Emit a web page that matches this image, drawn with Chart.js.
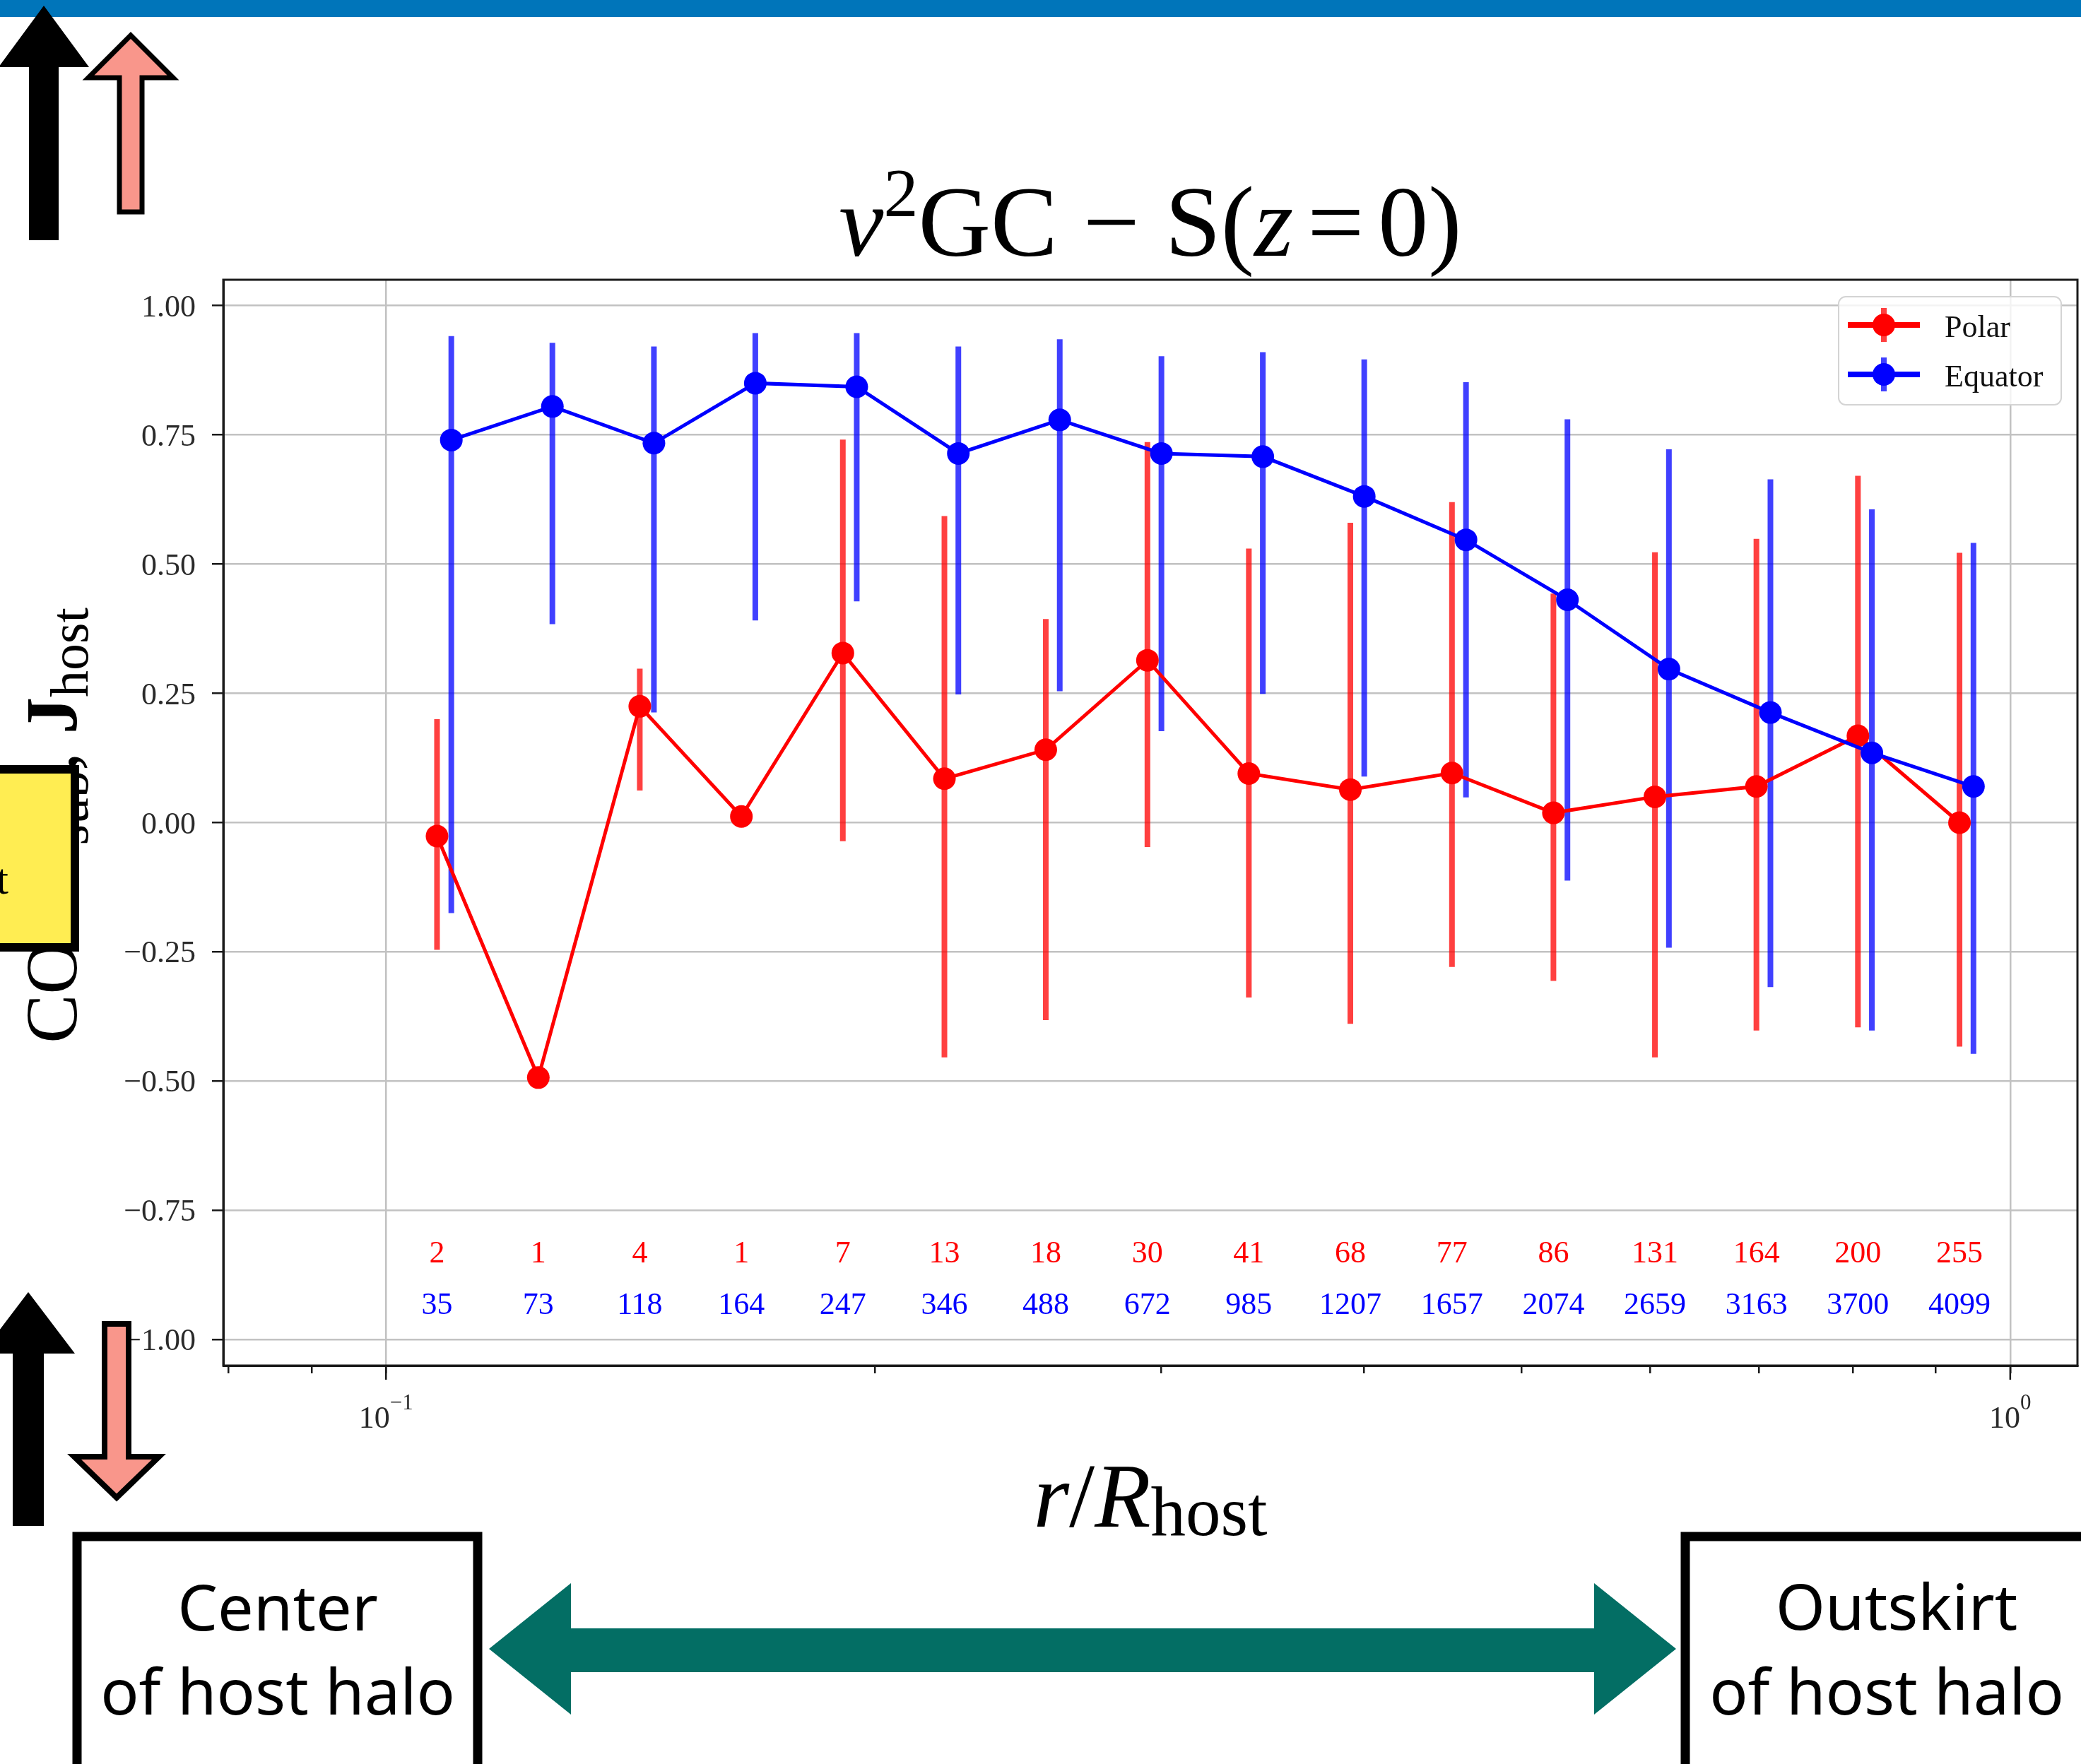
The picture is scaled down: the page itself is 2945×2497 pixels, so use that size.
<!DOCTYPE html>
<html>
<head>
<meta charset="utf-8">
<title>Subhalo spin alignment vs radius</title>
<script src="https://cdn.jsdelivr.net/npm/chart.js@4.4.1/dist/chart.umd.min.js"></script>
<style>
  html, body { margin: 0; padding: 0; background: #fff; }
  canvas { display: block; }
</style>
</head>
<body>
<canvas id="chart" width="2945" height="2497" style="width:2945px;height:2497px"></canvas>
<script>
// radial bins, r / R_host (equator points sit a touch to the right of the polar ones)
const rPolar = [0.1075, 0.1241, 0.1433, 0.1655, 0.1911, 0.2207, 0.2548, 0.2943,
  0.3398, 0.3924, 0.4532, 0.5233, 0.6043, 0.6978, 0.8058, 0.9306];
const rEquator = [0.1097, 0.1266, 0.1462, 0.1688, 0.1949, 0.2251, 0.2599, 0.3002,
  0.3466, 0.4002, 0.4623, 0.5338, 0.6164, 0.7118, 0.8219, 0.9492];

// mean cosine and the ends of the error bars (null = single object, no bar)
const polarMean = [-0.026, -0.493, 0.225, 0.012, 0.328, 0.085, 0.141, 0.314,
  0.095, 0.064, 0.096, 0.019, 0.050, 0.070, 0.168, 0.000];
const polarLow = [-0.246, null, 0.062, null, -0.036, -0.454, -0.382, -0.047,
  -0.338, -0.389, -0.279, -0.306, -0.454, -0.402, -0.396, -0.433];
const polarHigh = [0.200, null, 0.298, null, 0.741, 0.593, 0.394, 0.736,
  0.530, 0.580, 0.620, 0.443, 0.523, 0.549, 0.671, 0.522];

const equatorMean = [0.740, 0.805, 0.734, 0.850, 0.843, 0.714, 0.779, 0.714,
  0.708, 0.631, 0.547, 0.431, 0.297, 0.213, 0.135, 0.070];
const equatorLow = [-0.175, 0.384, 0.213, 0.391, 0.428, 0.248, 0.254, 0.177,
  0.249, 0.089, 0.049, -0.112, -0.242, -0.318, -0.402, -0.447];
const equatorHigh = [0.941, 0.928, 0.921, 0.947, 0.947, 0.921, 0.935, 0.902,
  0.910, 0.896, 0.852, 0.780, 0.722, 0.664, 0.606, 0.541];

// number of subhaloes per bin
const polarCount = [2, 1, 4, 1, 7, 13, 18, 30, 41, 68, 77, 86, 131, 164, 200, 255];
const equatorCount = [35, 73, 118, 164, 247, 346, 488, 672, 985, 1207, 1657, 2074,
  2659, 3163, 3700, 4099];
const countRowPolar = -0.85;
const countRowEquator = -0.95;

const yTicks = [-1, -0.75, -0.5, -0.25, 0, 0.25, 0.5, 0.75, 1];
const xTicks = [0.08, 0.09, 0.1, 0.2, 0.3, 0.4, 0.5, 0.6, 0.7, 0.8, 0.9, 1];
const xMajor = [0.1, 1];
const xTickLabels = [['10', '−1'], ['10', '0']];

const SERIF = '"Liberation Serif", "Times New Roman", serif';
const SANS = '"Noto Sans", "Liberation Sans", sans-serif';
const serif = (size, style = '') => `${style} ${size}px ${SERIF}`.trim();

const GRID = '#c2c2c2';
const INK = '#1a1a1a';

// draw a row of text pieces with their own fonts and offsets
const drawRuns = (ctx, runs, x, y, align = 'center') => {
  ctx.save();
  ctx.textAlign = 'left';
  ctx.textBaseline = 'alphabetic';
  const widths = runs.map((r) => {
    ctx.font = r.font;
    return ctx.measureText(r.text).width + 2 * (r.pad || 0);
  });
  const total = widths.reduce((a, b) => a + b, 0);
  let cx = align === 'center' ? x - total / 2 : align === 'right' ? x - total : x;
  runs.forEach((r, i) => {
    ctx.font = r.font;
    ctx.fillText(r.text, cx + (r.pad || 0), y + (r.dy || 0));
    cx += widths[i];
  });
  ctx.restore();
};

const blockArrow = (ctx, a, fill, stroke, lw) => {
  const { cx, tip, head, end, headHalf, shaftHalf } = a;
  ctx.beginPath();
  ctx.moveTo(cx, tip);
  ctx.lineTo(cx + headHalf, head);
  ctx.lineTo(cx + shaftHalf, head);
  ctx.lineTo(cx + shaftHalf, end);
  ctx.lineTo(cx - shaftHalf, end);
  ctx.lineTo(cx - shaftHalf, head);
  ctx.lineTo(cx - headHalf, head);
  ctx.closePath();
  ctx.fillStyle = fill;
  ctx.fill();
  if (stroke) {
    ctx.lineJoin = 'miter';
    ctx.lineWidth = lw;
    ctx.strokeStyle = stroke;
    ctx.stroke();
  }
};

// vertical error bars, drawn under the lines and markers
const errorBars = {
  id: 'errorBars',
  beforeDatasetsDraw(chart) {
    const { ctx, scales: { x, y } } = chart;
    ctx.save();
    ctx.lineWidth = 8;
    ctx.lineCap = 'butt';
    [...chart.data.datasets].reverse().forEach((ds) => {
      ctx.strokeStyle = ds.errorColor;
      ds.data.forEach((p, i) => {
        if (ds.errLow[i] === null) return;
        const px = x.getPixelForValue(p.x);
        ctx.beginPath();
        ctx.moveTo(px, y.getPixelForValue(ds.errLow[i]));
        ctx.lineTo(px, y.getPixelForValue(ds.errHigh[i]));
        ctx.stroke();
      });
    });
    ctx.restore();
  },
};

// frame, tick labels, counts, legend, title and axis labels
const axesText = {
  id: 'axesText',
  afterDatasetsDraw(chart) {
    const { ctx, chartArea: area, scales: { x, y } } = chart;
    ctx.save();

    // full box round the axes
    ctx.strokeStyle = INK;
    ctx.lineWidth = 3;
    ctx.strokeRect(area.left, area.top, area.right - area.left, area.bottom - area.top);

    // longer marks for the decades
    ctx.lineWidth = 2.5;
    xMajor.forEach((v) => {
      const px = x.getPixelForValue(v);
      ctx.beginPath();
      ctx.moveTo(px, area.bottom);
      ctx.lineTo(px, area.bottom + 20);
      ctx.stroke();
    });

    ctx.fillStyle = '#2a2a2a';
    yTicks.forEach((v) => {
      const label = (v < 0 ? '−' : '') + Math.abs(v).toFixed(2);
      drawRuns(ctx, [{ text: label, font: serif(44) }], area.left - 39, y.getPixelForValue(v) + 15, 'right');
    });
    xMajor.forEach((v, i) => {
      const [base, sup] = xTickLabels[i];
      drawRuns(ctx, [
        { text: base, font: serif(44) },
        { text: sup, font: serif(31), dy: -26 },
      ], x.getPixelForValue(v), area.bottom + 88);
    });

    // counts per bin
    rPolar.forEach((r, i) => {
      const px = x.getPixelForValue(r);
      ctx.fillStyle = '#ff0000';
      drawRuns(ctx, [{ text: String(polarCount[i]), font: serif(44) }], px, y.getPixelForValue(countRowPolar));
      ctx.fillStyle = '#0000ff';
      drawRuns(ctx, [{ text: String(equatorCount[i]), font: serif(44) }], px, y.getPixelForValue(countRowEquator));
    });

    // legend
    const lx = area.right - 338;
    const ly = area.top + 24;
    ctx.beginPath();
    ctx.roundRect(lx, ly, 315, 153, 10);
    ctx.fillStyle = 'rgba(255,255,255,0.8)';
    ctx.fill();
    ctx.strokeStyle = '#d4d4d4';
    ctx.lineWidth = 2;
    ctx.stroke();
    chart.data.datasets.forEach((ds, i) => {
      const cy = ly + 40 + i * 70;
      const mx = lx + 64;
      ctx.strokeStyle = ds.borderColor;
      ctx.lineWidth = 8;
      ctx.beginPath();
      ctx.moveTo(lx + 13, cy);
      ctx.lineTo(lx + 115, cy);
      ctx.stroke();
      ctx.strokeStyle = ds.errorColor;
      ctx.beginPath();
      ctx.moveTo(mx, cy - 24);
      ctx.lineTo(mx, cy + 24);
      ctx.stroke();
      ctx.fillStyle = ds.backgroundColor;
      ctx.beginPath();
      ctx.arc(mx, cy, 16, 0, Math.PI * 2);
      ctx.fill();
      ctx.fillStyle = '#111';
      drawRuns(ctx, [{ text: ds.label, font: serif(44) }], lx + 150, cy + 17, 'left');
    });

    // title
    const mid = (area.left + area.right) / 2;
    ctx.fillStyle = '#000';
    drawRuns(ctx, [
      { text: 'ν', font: serif(142, 'italic') },
      { text: '2', font: serif(98), dy: -56 },
      { text: 'GC', font: serif(142) },
      { text: '−', font: serif(142), pad: 36 },
      { text: 'S(', font: serif(142) },
      { text: 'z', font: serif(142, 'italic') },
      { text: '=', font: serif(142), pad: 20 },
      { text: '0)', font: serif(142) },
    ], mid, area.top - 34);

    // x label
    drawRuns(ctx, [
      { text: 'r', font: serif(130, 'italic') },
      { text: '/', font: serif(130) },
      { text: 'R', font: serif(130, 'italic') },
      { text: 'host', font: serif(99), dy: 12 },
    ], mid, area.bottom + 228);

    // y label, reading upwards
    ctx.translate(108, (area.top + area.bottom) / 2 + 4);
    ctx.rotate(-Math.PI / 2);
    drawRuns(ctx, [
      { text: 'COS ', font: serif(104) },
      { text: 'J', font: serif(104, 'bold') },
      { text: 'sub', font: serif(76), dy: 16 },
      { text: ', ', font: serif(104) },
      { text: 'J', font: serif(104, 'bold') },
      { text: 'host', font: serif(76), dy: 16 },
    ], 0, 0);
    ctx.restore();
  },
};

// slide decorations laid over the figure
const slideMarks = {
  id: 'slideMarks',
  afterDraw(chart) {
    const { ctx, width } = chart;
    ctx.save();

    ctx.fillStyle = '#0075ba';
    ctx.fillRect(0, 0, width, 24);

    const pink = '#f9968b';
    blockArrow(ctx, { cx: 62, tip: 8, head: 95, end: 340, headHalf: 64, shaftHalf: 21 }, '#000');
    blockArrow(ctx, { cx: 185, tip: 50, head: 110, end: 300, headHalf: 60, shaftHalf: 16 }, pink, '#000', 7);
    blockArrow(ctx, { cx: 40, tip: 1829, head: 1916, end: 2160, headHalf: 66, shaftHalf: 22 }, '#000');
    blockArrow(ctx, { cx: 165, tip: 2120, head: 2062, end: 1874, headHalf: 60, shaftHalf: 17 }, pink, '#000', 8);

    // partly hidden note box on the left edge
    ctx.fillStyle = '#ffed52';
    ctx.fillRect(-20, 1089, 126, 252);
    ctx.strokeStyle = '#000';
    ctx.lineWidth = 12;
    ctx.strokeRect(-20, 1089, 126, 252);
    ctx.fillStyle = '#000';
    drawRuns(ctx, [{ text: 'host', font: serif(62) }], 12, 1265, 'right');

    // centre / outskirt boxes with the double arrow between them
    ctx.lineWidth = 13;
    ctx.strokeRect(109, 2175, 567, 330);
    ctx.strokeRect(2385, 2175, 580, 330);
    const boxFont = `90px ${SANS}`;
    drawRuns(ctx, [{ text: 'Center', font: boxFont }], 393, 2308);
    drawRuns(ctx, [{ text: 'of host halo', font: boxFont }], 393, 2427);
    drawRuns(ctx, [{ text: 'Outskirt', font: boxFont }], 2684, 2307);
    drawRuns(ctx, [{ text: 'of host halo', font: boxFont }], 2670, 2427);

    ctx.fillStyle = '#036e64';
    ctx.beginPath();
    ctx.moveTo(692, 2334);
    ctx.lineTo(808, 2241);
    ctx.lineTo(808, 2305);
    ctx.lineTo(2256, 2305);
    ctx.lineTo(2256, 2241);
    ctx.lineTo(2372, 2334);
    ctx.lineTo(2256, 2427);
    ctx.lineTo(2256, 2367);
    ctx.lineTo(808, 2367);
    ctx.lineTo(808, 2427);
    ctx.closePath();
    ctx.fill();
    ctx.restore();
  },
};

const toPoints = (xs, ys) => xs.map((v, i) => ({ x: v, y: ys[i] }));

new Chart(document.getElementById('chart'), {
  type: 'scatter',
  data: {
    datasets: [
      {
        label: 'Polar',
        data: toPoints(rPolar, polarMean),
        errLow: polarLow,
        errHigh: polarHigh,
        errorColor: 'rgba(255,0,0,0.75)',
        borderColor: '#ff0000',
        backgroundColor: '#ff0000',
        showLine: true,
        borderWidth: 5,
        pointRadius: 16,
        pointBorderWidth: 0,
        order: 1,
      },
      {
        label: 'Equator',
        data: toPoints(rEquator, equatorMean),
        errLow: equatorLow,
        errHigh: equatorHigh,
        errorColor: 'rgba(0,0,255,0.75)',
        borderColor: '#0000ff',
        backgroundColor: '#0000ff',
        showLine: true,
        borderWidth: 5,
        pointRadius: 16,
        pointBorderWidth: 0,
        order: 0,
      },
    ],
  },
  options: {
    responsive: false,
    animation: false,
    devicePixelRatio: 1,
    layout: { autoPadding: false, padding: { left: 300, top: 396, right: 5, bottom: 553 } },
    plugins: {
      legend: { display: false },
      tooltip: { enabled: false },
    },
    scales: {
      x: {
        type: 'logarithmic',
        min: 0.0794,
        max: 1.1,
        afterBuildTicks: (axis) => {
          axis.ticks = xTicks.map((v) => ({ value: v, major: xMajor.includes(v) }));
        },
        ticks: { display: false },
        grid: {
          color: (c) => (c.tick && c.tick.major ? GRID : 'rgba(0,0,0,0)'),
          lineWidth: 2.5,
          tickLength: 11,
          tickColor: INK,
          tickWidth: 2.5,
        },
        border: { display: true, color: INK, width: 3 },
      },
      y: {
        type: 'linear',
        min: -1.05,
        max: 1.05,
        afterBuildTicks: (axis) => {
          axis.ticks = yTicks.map((v) => ({ value: v }));
        },
        ticks: { display: false },
        grid: {
          color: GRID,
          lineWidth: 2.5,
          tickLength: 16,
          tickColor: INK,
          tickWidth: 2.5,
        },
        border: { display: true, color: INK, width: 3 },
      },
    },
  },
  plugins: [errorBars, axesText, slideMarks],
});
</script>
</body>
</html>
